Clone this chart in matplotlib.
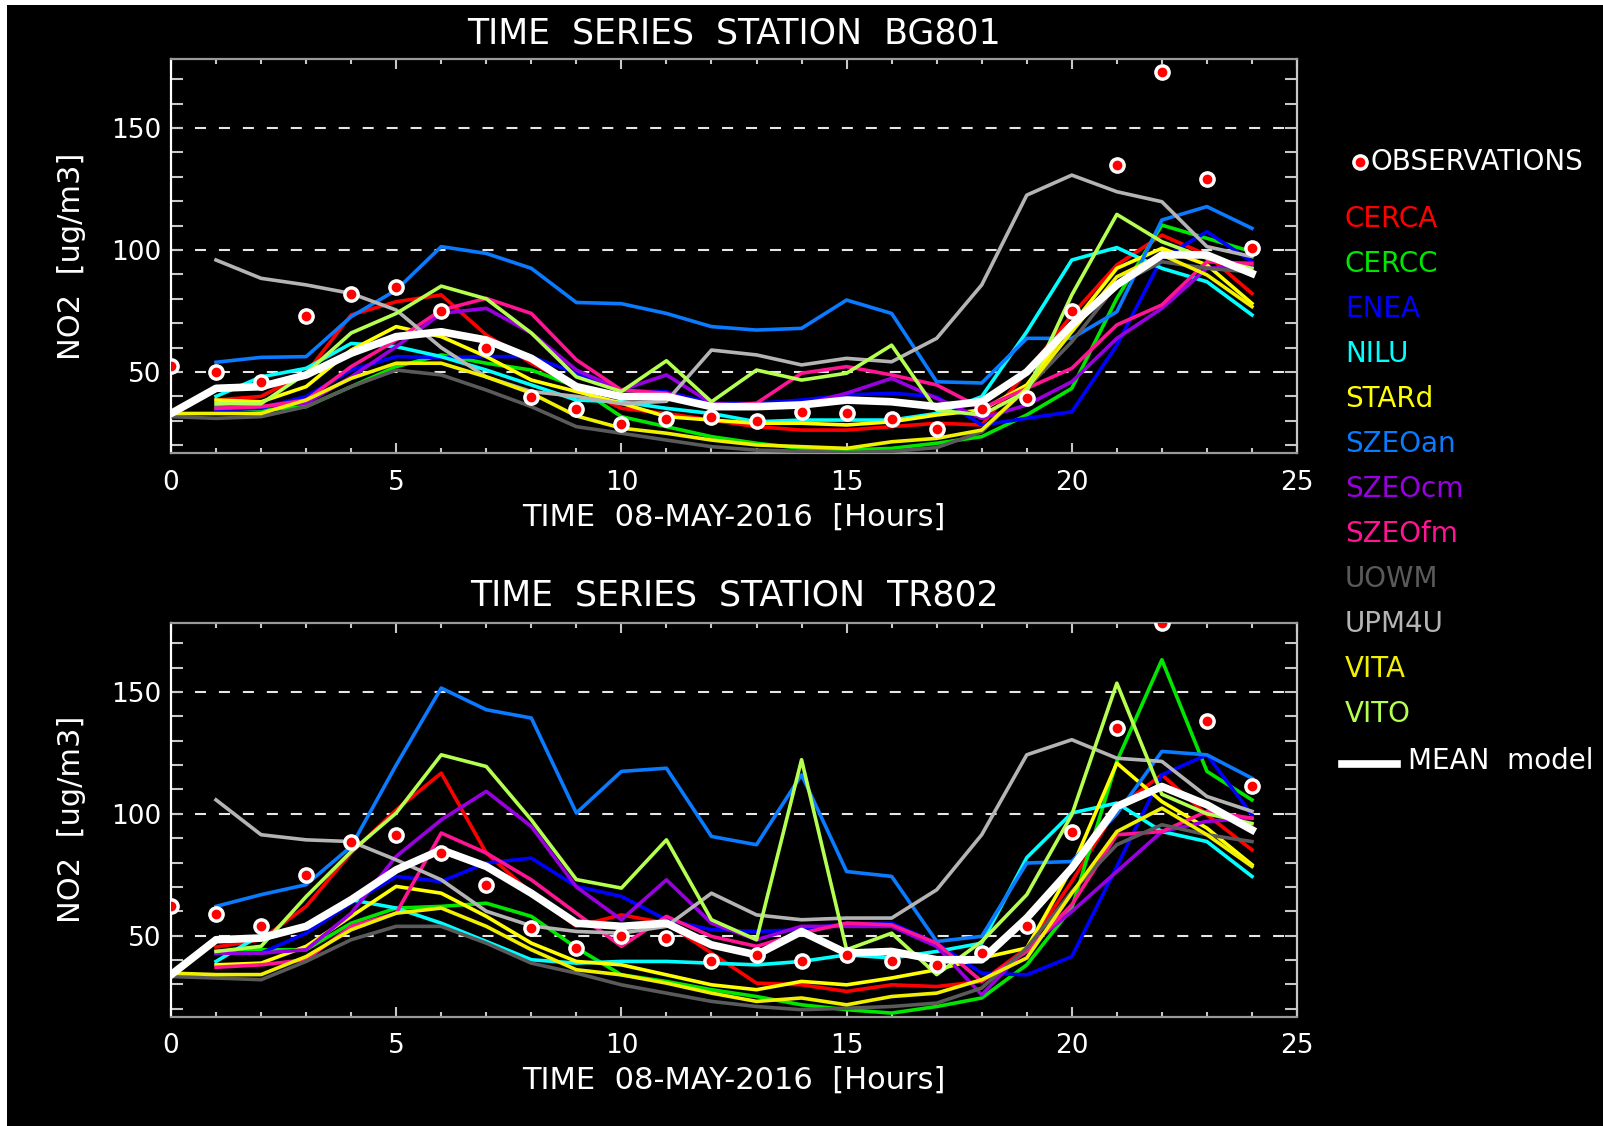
import numpy as np
import matplotlib
matplotlib.use("Agg")
import matplotlib.pyplot as plt
from matplotlib.ticker import MultipleLocator
from matplotlib.patches import Rectangle

nan = np.nan
hours = list(range(25))

model_names = ["CERCA", "CERCC", "ENEA", "NILU", "STARd", "SZEOan", "SZEOcm",
               "SZEOfm", "UOWM", "UPM4U", "VITA", "VITO"]
model_colors = ["#ff0000", "#00e600", "#0000ff", "#00ffff", "#ffff00", "#0a7aff",
                "#9900e0", "#ff1493", "#5a5a5a", "#b4b4b4", "#f0f000", "#b4ff50"]

stations = ["BG801", "TR802"]

# ---------------- station BG801 ----------------
obs_bg801 = [52.6, 50.0, 45.8, 73.0, 81.8, 84.8, 75.0, 60.0, 39.9, 34.7, 28.7, 30.7, 31.7,
             30.1, 33.8, 33.1, 30.7, 26.8, 34.8, 39.2, 75.0, 134.8, 173.0, 129.1, 101.0]
cerca_bg801 = [nan, 38.5, 40, 49.5, 73.4, 78.8, 81.6, 65.2, 53.6, 44, 35.1, 33, 30.3, 27.6,
               26.2, 26.2, 27.6, 29, 28.3, 50, 73.4, 93.9, 106.1, 98, 82.2]
cercc_bg801 = [nan, 35.8, 34.4, 35.8, 44, 52.2, 57, 53.6, 50.8, 44, 31.7, 27.6, 23.5, 20.8,
               18.7, 18, 18.7, 20.8, 23.5, 32.4, 43.3, 80.2, 110.2, 104.8, 99.3]
enea_bg801 = [nan, 34.7, 35.1, 40, 50.8, 56.3, 56, 56.3, 56.3, 49.5, 42.6, 41.9, 37.2, 37.2,
              38.5, 40.6, 41.3, 39.9, 28.3, 31, 33.7, 61, 96.6, 107.5, 95.2]
nilu_bg801 = [nan, 40, 48, 51.5, 61.7, 60.4, 56.3, 50.8, 44.7, 38.5, 37.8, 35.1, 33, 29.6,
              30.3, 30.3, 30.3, 33, 39.9, 66.5, 95.9, 101, 92.5, 87, 73.4]
stard_bg801 = [nan, 38.5, 37.8, 44, 59, 68.6, 64.5, 56.3, 46.7, 42, 37.2, 31.7, 30.3, 29,
               29, 28.3, 29.6, 32.4, 34.4, 44.7, 69.3, 92.5, 100.7, 93.9, 78.1]
szeoan_bg801 = [nan, 54, 56, 56.3, 72.7, 83.6, 101.4, 98.6, 92.5, 78.5, 78, 74, 68.6, 67.2,
                67.9, 79.5, 74, 46, 45.5, 63.8, 63.8, 74.7, 112.3, 117.8, 108.9]
szeocm_bg801 = [nan, 35.1, 35.8, 37.2, 48, 60.4, 74, 76.1, 66, 50.8, 42.6, 48.8, 37.2, 35.8,
                36.5, 41.3, 47.4, 39.2, 31, 36.5, 46, 63.8, 76.1, 92.5, 93.2]
szeofm_bg801 = [nan, 35.1, 35.8, 38.5, 52.2, 63.1, 75.4, 80.2, 74, 55, 42.6, 41.3, 35.8, 37.2,
                49.5, 52.2, 48.8, 44.7, 35.1, 43.3, 51.5, 69.3, 77.5, 95.2, 94.5]
uowm_bg801 = [31.7, 31, 31.7, 35.8, 44, 50.8, 48.8, 42.6, 35.8, 27.6, 24.9, 22.1, 19.4, 18,
              17.5, 17, 17.5, 19, 25.5, 43.3, 62.4, 85.7, 95.2, 92.5, 91]
upm4u_bg801 = [nan, 95.9, 88.4, 85.7, 82.2, 75.4, 60, 48, 42, 40, 37, 38, 59, 57, 52.9, 55.6,
               54.2, 63.8, 85.7, 122.5, 130.7, 123.9, 119.8, 101.4, 97.3]
vita_bg801 = [33, 33, 33, 38.5, 47.4, 53.6, 53.6, 48, 41.3, 32, 27, 24.9, 22.1, 20.1, 19.4,
              18.7, 21.4, 22.8, 26.2, 43.3, 66.5, 89, 98, 89.8, 76.8]
vito_bg801 = [nan, 37, 37, 49.5, 66, 74, 85.2, 80, 66, 48, 42, 54.6, 37.8, 50.8, 46.7, 49.5,
              61, 34.4, 32.4, 42, 81.6, 114.6, 103.4, 96.6, 92.5]
mean_bg801 = [33, 43.3, 44, 48.8, 57.7, 64.5, 66.5, 63.1, 55.6, 44, 39.9, 39.9, 35.8, 35.8,
              36.5, 38.5, 37.8, 35.8, 37.8, 50, 69.3, 85.7, 98, 98, 90.4]

# ---------------- station TR802 ----------------
obs_tr802 = [62, 59, 53.8, 75, 88.6, 91.4, 83.9, 70.9, 53.1, 44.9, 49.9, 49, 39.4, 42.1,
             39.4, 42.1, 39.4, 38, 42.8, 53.8, 92.7, 135.2, 178.2, 138.2, 111.2]
cerca_tr802 = [nan, 45.3, 48.3, 62, 84, 101.6, 116.7, 83.9, 67.4, 53.8, 58.5, 55.1, 42.8,
               30.5, 29.8, 27.1, 29.8, 29.1, 31.2, 44.9, 72.2, 102.3, 116, 99.6, 85.2]
cercc_tr802 = [nan, 43.5, 44.2, 44.2, 55.1, 61.3, 62, 63.3, 57.9, 45, 33.9, 31.2, 27.8, 25,
               21.6, 19.6, 18.2, 20.9, 24.4, 38, 61.3, 121.5, 163.2, 117.4, 105.7]
enea_tr802 = [nan, 42.8, 42.8, 51, 63.3, 74.3, 72.2, 79.8, 81.8, 70.2, 66.1, 56.5, 52.4,
              51.7, 52.4, 55.1, 55.1, 46.9, 34.6, 33.9, 41.4, 78.4, 116, 124.2, 99.6]
nilu_tr802 = [nan, 39.4, 50.3, 53.8, 64.7, 61.3, 55.1, 47.6, 40.1, 38.7, 39.4, 39.4, 38.7,
              38, 39.4, 42.1, 40.8, 43.5, 46.9, 82, 100.3, 104.4, 92.7, 88.6, 74.3]
stard_tr802 = [nan, 38, 38.7, 45.6, 57.9, 70.2, 67.4, 57.9, 46.9, 39.4, 38, 33.9, 29.8, 27.8,
               31.2, 29.8, 32.6, 36, 40.8, 44.9, 77.7, 120.8, 105, 94.1, 79.1]
szeoan_tr802 = [nan, 62, 66.8, 70.9, 86.6, 120, 151.6, 142.7, 139.3, 100.3, 117.4, 118.7,
                90.7, 87.3, 116, 76.3, 74.3, 47.6, 49.7, 79.8, 80.4, 100, 125.6, 124.2, 114.6]
szeocm_tr802 = [nan, 42.8, 42.8, 44.2, 59.2, 82.5, 97.5, 109.2, 94.8, 70, 56.5, 72.9, 55.1,
                48.3, 53.8, 53.8, 53.8, 45.6, 25.7, 44.9, 59.9, 76.3, 92.7, 96.9, 98.2]
szeofm_tr802 = [nan, 37, 38, 40.1, 53.8, 59.2, 92.1, 83.9, 72.9, 59.2, 45.6, 57.9, 49.7,
                45.6, 51, 55.1, 54.4, 46.9, 31.2, 43.5, 62.7, 91.4, 92.7, 101, 98.2]
uowm_tr802 = [33.2, 32.6, 31.9, 39.4, 48.3, 53.8, 53.8, 46.9, 38.7, 34.6, 29.8, 26.4, 23,
              20.9, 19.6, 20.2, 20.9, 22.3, 28.5, 44.9, 68.1, 87.3, 95.5, 91.4, 88.6]
upm4u_tr802 = [nan, 105.7, 91.4, 89.3, 88.6, 81.1, 72.9, 60, 54, 51.7, 51, 53.8, 67.4, 58.5,
               56.5, 57.2, 57.2, 68.8, 91.4, 124.2, 130.4, 122.8, 121.5, 107.1, 101]
vita_tr802 = [34.6, 34, 34, 41.4, 52.4, 59.2, 61.3, 53.8, 44.2, 36, 33.9, 30.5, 26.4, 23,
              24.4, 21.6, 25, 26.4, 31.9, 40.8, 67.4, 92.7, 102.3, 91.4, 78.4]
vito_tr802 = [nan, 43.5, 45.6, 66, 84.5, 100.3, 124.2, 119.4, 97.5, 73, 69.5, 89.3, 56.5,
              48.3, 122.2, 44.2, 51, 34, 47.6, 66.8, 99.6, 153.6, 108, 100, 96]
mean_tr802 = [33.9, 48.3, 49, 53.8, 64.7, 77, 85.2, 78.4, 67.4, 55.1, 53.8, 55.1, 46.2, 42.1,
              51.7, 42.8, 43.5, 40.1, 40.1, 57.2, 77.7, 103, 111.2, 103.7, 93.4]

models_bg801 = [cerca_bg801, cercc_bg801, enea_bg801, nilu_bg801, stard_bg801, szeoan_bg801,
                szeocm_bg801, szeofm_bg801, uowm_bg801, upm4u_bg801, vita_bg801, vito_bg801]
models_tr802 = [cerca_tr802, cercc_tr802, enea_tr802, nilu_tr802, stard_tr802, szeoan_tr802,
                szeocm_tr802, szeofm_tr802, uowm_tr802, upm4u_tr802, vita_tr802, vito_tr802]

panels = [(obs_bg801, models_bg801, mean_bg801), (obs_tr802, models_tr802, mean_tr802)]

x_ticks = [0, 5, 10, 15, 20, 25]
y_ticks = [50, 100, 150]
title_fmt = "TIME  SERIES  STATION  {}"
xlabel_txt = "TIME  08-MAY-2016  [Hours]"
ylabel_txt = "NO2  [ug/m3]"

# ---------------- figure ----------------
W, H = 1603, 1126
plt.rcParams['font.family'] = ['DejaVu Sans']
fig = plt.figure(figsize=(W / 100, H / 100), dpi=100)
fig.patch.set_facecolor("white")
fig.add_artist(Rectangle((7 / W, 0), 1 - 7 / W, 1 - 5 / H, transform=fig.transFigure,
                         facecolor="black", edgecolor="none", zorder=-10))

def fx(px):
    return px / W

def fy(py):
    return 1 - py / H

axes_px = [(171, 59, 1297, 453), (171, 623, 1297, 1016.5)]
title_y = [33, 595]
xlabel_y = [517, 1080]

for i, (l, t, r, b) in enumerate(axes_px):
    ax = fig.add_axes([fx(l), fy(b), (r - l) / W, (b - t) / H])
    ax.set_facecolor("black")
    obs, models, mean = panels[i]
    for vals, col in zip(models, model_colors):
        ax.plot(hours, vals, color=col, lw=2.6, zorder=3)
    ax.plot(hours, mean, color="white", lw=5.5, zorder=4)
    ax.plot(hours, obs, linestyle="none", marker="o", ms=11, mfc="white", mec="white", zorder=5)
    ax.plot(hours, obs, linestyle="none", marker="o", ms=6, mfc="#ff0000", mec="#ff0000", zorder=6)

    ax.set_xlim(0, 25)
    ax.set_ylim(16.8, 178.3)
    ax.xaxis.set_major_locator(MultipleLocator(5))
    ax.xaxis.set_minor_locator(MultipleLocator(1))
    ax.set_yticks(y_ticks)
    ax.yaxis.set_minor_locator(MultipleLocator(10))
    ax.set_xticks(x_ticks)
    ax.set_xticklabels([str(v) for v in x_ticks])
    ax.set_yticklabels([str(v) for v in y_ticks])
    ax.tick_params(axis="x", which="both", direction="in", top=True, bottom=True,
                   colors="#c8c8c8", labelcolor="white", labelsize=19, pad=12)
    ax.tick_params(axis="x", which="major", length=7, width=1.5)
    ax.tick_params(axis="x", which="minor", length=3.6, width=1.5)
    ax.tick_params(axis="y", which="both", direction="in", left=True, right=True,
                   length=8.6, width=1.5, colors="#c8c8c8", labelcolor="white",
                   labelsize=19, pad=7)
    ax.yaxis.grid(True, which="major", color="#e6e6e6", lw=1.5, linestyle=(0, (5.3, 6.2)))
    ax.set_axisbelow(True)
    for side, col in [("left", "white"), ("bottom", "#9a9a9a"), ("top", "#9a9a9a"),
                      ("right", "#c8c8c8")]:
        ax.spines[side].set_color(col)
        ax.spines[side].set_linewidth(1.6)

    fig.text(fx(734), fy(title_y[i]), title_fmt.format(stations[i]), color="white",
             fontsize=25, ha="center", va="center")
    fig.text(fx(734), fy(xlabel_y[i]), xlabel_txt, color="white", fontsize=22,
             ha="center", va="center")
    fig.text(fx(72), fy((t + b) / 2), ylabel_txt, color="white", fontsize=22,
             ha="center", va="center", rotation=90)

# ---------------- legend ----------------
leg_y0 = 161.5
fig.lines.append(plt.Line2D([fx(1360)], [fy(leg_y0)], marker="o", ms=11, mfc="white",
                            mec="white", linestyle="none", transform=fig.transFigure))
fig.lines.append(plt.Line2D([fx(1360)], [fy(leg_y0)], marker="o", ms=6, mfc="#ff0000",
                            mec="#ff0000", linestyle="none", transform=fig.transFigure))
fig.text(fx(1370), fy(leg_y0), "OBSERVATIONS", color="white", fontsize=20, ha="left",
         va="center")
for k, (name, col) in enumerate(zip(model_names, model_colors)):
    yk = 219 + 45 * k
    fig.text(fx(1345), fy(yk), name, color=col, fontsize=20, ha="left", va="center")
mean_y = 761
fig.lines.append(plt.Line2D([fx(1342), fx(1397)], [fy(mean_y + 3), fy(mean_y + 3)],
                            color="white", lw=5.5, transform=fig.transFigure))
fig.text(fx(1408), fy(mean_y), "MEAN  model", color="white", fontsize=20, ha="left",
         va="center")

fig.savefig("out.png", dpi=100, facecolor=fig.get_facecolor())
